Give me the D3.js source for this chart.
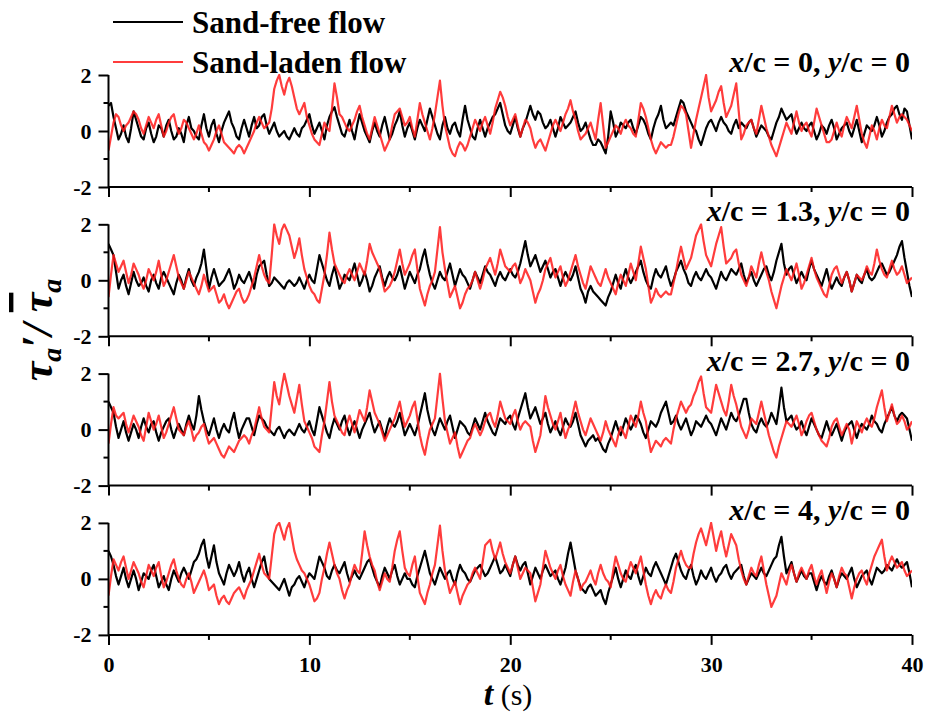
<!DOCTYPE html>
<html>
<head>
<meta charset="utf-8">
<script src="https://cdn.jsdelivr.net/npm/d3@7"></script>
<style>
    body { margin: 0; background: #fff; }
</style>
</head>
<body>
<div class="chart"></div>
<script>
/* Wall shear stress fluctuation, four stations */

var tEnd = 40;   // s, samples spread evenly over 0..tEnd
var panelLabels = [
    ["0", "0"],
    ["1.3", "0"],
    ["2.7", "0"],
    ["4", "0"]
];
var seriesNames = ["Sand-free flow", "Sand-laden flow"];
var yTicks = [-2, 0, 2];
var yMinorTicks = [-1, 1];
var xTicks = [0, 10, 20, 30, 40];
var xMinorTicks = [5, 15, 25, 35];

// x/c = 0  (one row = 5 s)
var free1 = [
    0.9,1.0,0.5,0.1,-0.3,-0.1,0.2,-0.2,-0.4,0.1, 0.7,0.4,0.1,-0.2,-0.3,0.1,0.3,-0.1,-0.4,-0.2, 0.2,0.1,-0.2,0.2,0.4,0.0,-0.3,-0.2,0.1,-0.1, -0.4,0.2,0.5,0.1,0.0,-0.2,-0.3,0.2,0.6,0.1,
    -0.2,0.2,0.4,-0.1,-0.4,0.0,0.3,0.5,0.7,0.3, 0.1,-0.2,-0.3,0.1,0.4,0.1,-0.2,0.2,0.5,0.1, 0.2,0.5,0.6,0.2,-0.1,0.1,0.3,0.0,-0.2,-0.1, 0.0,-0.2,-0.3,-0.1,0.1,-0.1,-0.2,0.1,0.2,0.4,
    0.6,0.2,-0.1,0.1,0.3,0.0,-0.3,0.2,0.5,0.7, 0.85,0.5,0.2,-0.1,-0.2,0.1,0.4,0.0,-0.3,0.2, 0.6,0.3,0.0,-0.2,-0.4,0.0,0.3,0.0,-0.2,0.2, 0.5,0.1,-0.3,-0.1,0.2,0.4,0.7,0.2,-0.2,0.1,
    0.3,0.0,-0.3,0.1,0.4,0.2,0.0,0.4,0.8,0.5, 0.2,-0.1,-0.3,0.2,0.5,0.1,-0.1,0.2,0.3,0.0, -0.2,0.4,0.9,0.4,0.1,-0.2,-0.3,0.1,0.4,0.1, -0.2,0.1,0.3,0.5,0.6,0.8,1.0,0.6,0.2,0.0,
    -0.1,0.2,0.5,0.1,-0.2,0.1,0.3,0.6,0.9,0.6, 0.4,0.7,0.6,0.3,0.1,0.2,0.4,0.1,-0.2,0.1, 0.5,0.3,0.1,0.2,0.3,0.5,0.7,0.3,0.0,0.1, 0.3,0.0,-0.3,-0.5,-0.5,-0.3,-0.4,-0.6,-0.8,-0.2,
    0.7,0.3,-0.2,0.0,0.3,0.2,0.1,0.3,0.4,0.1, -0.1,0.2,0.5,0.4,0.2,-0.1,-0.3,0.1,0.4,0.6, 0.9,0.4,0.1,0.2,0.3,0.2,0.5,0.8,1.1,1.0, 0.7,0.5,0.3,0.1,0.0,-0.3,-0.5,-0.2,0.1,0.3,
    0.4,0.2,0.0,0.3,0.5,0.3,0.2,0.0,-0.1,0.2, 0.4,0.1,0.3,0.2,0.1,0.3,0.4,0.1,-0.2,0.0, 0.2,0.1,0.0,-0.2,-0.3,0.0,0.3,0.5,0.8,0.6, 0.4,0.5,0.6,0.2,-0.1,0.1,0.3,0.1,0.0,0.2,
    0.3,0.0,-0.3,-0.1,0.2,0.1,-0.1,0.2,0.4,0.1, -0.3,-0.1,0.1,0.2,0.3,0.0,-0.2,0.1,0.4,0.0, -0.4,-0.1,0.2,0.1,0.0,0.2,0.5,0.2,-0.2,0.0, 0.3,0.5,0.6,0.8,0.9,0.6,0.4,0.8,0.7,0.2,
    -0.3
];
var laden1 = [
    -0.7,-0.2,0.3,0.6,0.5,0.2,0.0,0.2,0.3,0.5, 0.7,0.6,0.4,0.1,-0.1,0.2,0.5,0.3,0.1,0.4, 0.6,0.2,-0.2,0.0,0.3,0.5,0.6,0.2,-0.1,0.1, 0.4,0.3,0.1,-0.1,-0.3,-0.1,0.2,-0.1,-0.4,-0.5,
    -0.7,-0.5,-0.3,0.0,0.2,-0.1,-0.4,-0.5,-0.6,-0.7, -0.8,-0.6,-0.5,-0.6,-0.8,-0.6,-0.4,-0.2,0.0,0.3, 0.5,0.3,0.1,0.2,0.3,0.8,1.5,1.8,2.0,1.6, 1.3,1.7,1.9,1.6,1.2,0.8,0.6,0.8,1.0,0.5,
    0.2,-0.1,-0.3,-0.4,-0.5,-0.1,0.3,0.1,0.0,0.8, 1.7,1.2,0.6,0.5,0.3,0.1,0.0,0.2,0.4,0.7, 0.9,0.5,0.2,-0.1,-0.3,0.1,0.5,0.2,-0.1,-0.4, -0.7,-0.5,-0.3,0.2,0.6,0.7,0.8,0.5,0.2,0.3,
    0.5,0.1,-0.2,0.4,1.0,0.6,0.3,0.0,-0.3,0.1, 0.6,1.2,1.8,0.9,0.2,-0.2,-0.6,-0.8,-0.9,-0.6, -0.4,-0.5,-0.7,-0.5,-0.2,0.1,0.4,0.2,0.0,0.3, 0.5,0.2,-0.1,0.3,0.8,1.1,1.4,1.2,0.9,0.5,
    0.2,0.4,0.6,0.2,-0.2,0.1,0.4,0.3,0.1,-0.3, -0.6,-0.4,-0.3,-0.5,-0.7,-0.4,-0.1,0.2,0.4,0.2, 0.0,0.3,0.6,0.8,1.1,0.7,0.4,0.0,-0.3,-0.2, -0.1,0.1,0.3,0.0,-0.3,0.4,1.0,0.2,-0.6,-0.4,
    -0.2,0.0,0.2,0.1,-0.1,0.2,0.4,0.2,0.1,-0.1, -0.2,0.4,1.0,0.8,0.5,0.1,-0.3,-0.6,-0.8,-0.6, -0.4,-0.5,-0.6,-0.5,-0.5,-0.2,0.2,0.6,0.9,0.8, 0.6,0.0,-0.6,-0.1,0.4,0.8,1.2,1.6,2.0,1.2,
    0.7,0.9,1.1,1.4,1.6,1.0,0.5,0.7,0.9,1.3, 1.7,0.7,-0.3,-0.1,0.2,0.3,0.4,0.1,-0.1,0.4, 0.9,0.5,0.1,-0.2,-0.5,-0.7,-0.9,-0.6,-0.3,0.0, 0.3,0.1,-0.1,0.3,0.7,0.3,0.0,0.2,0.3,0.0,
    -0.2,0.3,0.8,0.5,0.2,-0.1,-0.4,-0.4,-0.3,0.0, 0.3,0.0,-0.2,0.2,0.5,0.3,0.1,0.5,0.9,0.4, -0.1,-0.4,-0.6,-0.2,0.2,0.0,-0.3,0.1,0.4,0.2, 0.1,0.5,0.9,0.6,0.3,0.5,0.6,0.5,0.4,0.2,
    0.0
];

// x/c = 1.3
var free2 = [
    1.3,1.1,0.9,0.3,-0.3,0.0,0.2,-0.2,-0.5,-0.1, 0.3,0.0,-0.2,-0.1,0.1,-0.2,-0.4,0.0,0.2,-0.1, -0.3,0.1,0.3,0.1,-0.1,-0.3,-0.5,-0.1,0.2,0.0, -0.3,0.1,0.4,0.0,-0.2,0.1,0.3,0.6,1.1,0.4,
    -0.3,0.1,0.4,0.1,-0.2,-0.1,0.0,0.2,0.4,0.1, -0.3,-0.1,0.2,0.0,-0.1,0.1,0.3,0.0,-0.3,0.2, 0.5,0.6,0.7,0.2,-0.2,-0.1,0.1,0.0,-0.1,-0.2, -0.3,-0.1,0.0,-0.1,-0.2,-0.1,0.1,-0.1,-0.3,0.0,
    0.2,0.0,-0.1,0.4,0.9,0.6,0.3,0.0,-0.2,0.2, 0.5,0.1,-0.3,-0.1,0.2,0.1,0.0,0.3,0.6,0.2, -0.2,0.0,0.3,0.0,-0.4,-0.2,0.1,0.3,0.5,0.1, -0.2,0.1,0.3,0.1,0.0,0.2,0.5,0.1,-0.3,0.0,
    0.3,0.1,-0.1,0.2,0.4,0.8,1.1,0.6,0.2,-0.1, -0.3,0.0,0.3,0.1,0.0,0.3,0.6,0.2,-0.2,0.1, 0.4,0.2,0.1,-0.1,-0.3,0.0,0.3,0.1,-0.1,0.2, 0.5,0.3,0.2,0.0,-0.2,0.1,0.3,0.1,0.0,0.2,
    0.4,0.2,0.1,0.3,0.6,1.0,1.4,0.9,0.5,0.7, 0.9,0.6,0.3,0.5,0.7,0.4,0.1,0.3,0.4,0.1, -0.2,0.1,0.3,0.1,0.0,0.2,0.5,0.1,-0.3,-0.5, -0.8,-0.4,-0.2,-0.4,-0.5,-0.6,-0.7,-0.8,-0.9,-0.6,
    -0.4,-0.1,0.2,-0.1,-0.3,0.1,0.4,0.1,-0.1,0.1, 0.3,0.5,0.7,0.3,0.0,-0.2,-0.3,0.1,0.4,0.2, 0.1,0.3,0.5,0.1,-0.2,0.0,0.3,0.5,0.7,0.4, 0.2,-0.1,-0.2,0.1,0.3,0.1,0.0,0.2,0.4,0.2,
    0.1,-0.1,-0.3,0.0,0.3,0.1,0.0,0.2,0.4,0.3, 0.2,0.4,0.6,0.2,-0.1,0.1,0.3,0.0,-0.2,0.0, 0.2,0.4,0.5,0.2,0.0,0.3,0.7,1.0,1.3,0.6, 0.2,0.4,0.5,0.2,-0.1,0.1,0.3,0.1,0.0,0.4,
    0.7,0.4,0.2,0.0,-0.2,0.1,0.4,0.0,-0.3,-0.1, 0.1,-0.1,-0.2,0.1,0.3,0.0,-0.4,-0.1,0.2,0.0, -0.1,0.2,0.4,0.1,0.0,0.1,0.3,0.5,0.6,0.4, 0.2,0.3,0.5,0.7,0.9,1.2,1.4,0.8,0.3,-0.2,
    -0.6
];
var laden2 = [
    -0.6,0.2,0.9,0.6,0.3,0.5,0.7,0.3,-0.1,0.2, 0.6,0.4,0.2,-0.1,-0.3,0.0,0.4,0.2,0.0,0.3, 0.7,0.2,-0.2,0.0,0.3,0.6,0.9,0.5,0.1,-0.1, -0.3,0.0,0.3,0.1,-0.1,-0.3,-0.5,-0.2,0.2,-0.1,
    -0.4,-0.3,-0.2,-0.5,-0.8,-0.7,-0.5,-0.8,-1.0,-0.8, -0.6,-0.4,-0.3,-0.6,-0.8,-0.7,-0.5,-0.2,0.1,0.5, 0.9,0.5,0.2,0.0,-0.1,0.9,2.0,1.6,1.3,1.8, 2.0,1.8,1.6,1.2,0.8,1.1,1.5,0.9,0.4,0.1,
    -0.2,-0.4,-0.5,-0.7,-0.8,-0.3,0.2,0.9,1.7,1.1, 0.6,0.4,0.2,0.0,-0.1,0.2,0.4,0.2,0.0,0.3, 0.6,0.4,0.2,0.7,1.3,1.0,0.8,0.6,0.4,0.0, -0.4,-0.3,-0.2,0.0,0.3,0.7,1.1,0.6,0.2,0.4,
    0.6,0.9,1.1,0.4,-0.3,-0.6,-0.9,-0.5,-0.2,0.0, 0.3,1.1,1.9,1.0,0.4,-0.1,-0.6,-0.4,-0.2,-0.6, -1.0,-0.8,-0.5,-0.3,-0.2,0.0,0.3,0.0,-0.3,0.0, 0.4,0.6,0.8,0.5,0.2,0.6,1.1,0.8,0.5,0.4,
    0.3,0.5,0.6,0.3,-0.1,0.1,0.4,0.2,0.0,-0.4, -0.8,-0.5,-0.3,0.0,0.4,0.6,0.8,0.4,0.1,0.3, 0.5,0.1,-0.2,0.0,0.3,0.6,0.9,0.5,0.2,-0.1, -0.3,0.1,0.5,0.3,0.1,-0.1,-0.2,0.1,0.4,0.1,
    -0.1,-0.3,-0.5,-0.1,0.2,0.0,-0.2,0.2,0.6,0.3, 0.0,0.6,1.2,0.8,0.4,-0.2,-0.8,-0.6,-0.3,-0.5, -0.6,-0.5,-0.4,-0.5,-0.5,-0.1,0.3,0.8,1.2,0.8, 0.4,0.6,0.8,1.2,1.6,1.8,2.0,1.4,0.9,0.7,
    0.5,0.9,1.3,1.6,1.9,1.2,0.6,0.7,0.8,1.0, 1.1,0.6,0.2,0.0,-0.2,0.1,0.5,0.3,0.1,0.6, 1.0,0.6,0.3,0.0,-0.4,-0.7,-1.0,-0.6,-0.2,0.1, 0.4,0.2,0.0,0.3,0.6,0.2,-0.3,-0.1,0.2,0.5,
    0.8,0.4,0.1,-0.1,-0.3,-0.5,-0.6,-0.2,0.2,0.4, 0.5,0.2,-0.1,0.1,0.3,0.0,-0.4,-0.1,0.2,0.1, 0.0,0.2,0.5,0.3,0.2,0.6,1.1,0.7,0.4,0.2, 0.1,0.4,0.7,0.4,0.2,0.3,0.5,0.2,-0.1,0.0,
    0.1
];

// x/c = 2.7
var free3 = [
    1.0,0.8,0.6,0.1,-0.3,0.0,0.3,-0.1,-0.4,-0.1, 0.2,0.0,-0.3,0.1,0.4,0.1,-0.1,0.2,0.3,-0.1, -0.4,-0.1,0.1,0.3,0.4,0.0,-0.3,0.0,0.2,0.0, -0.2,0.2,0.5,0.2,0.0,0.5,1.2,0.7,0.3,0.0,
    -0.2,0.1,0.4,0.0,-0.3,0.0,0.2,0.0,-0.1,0.3, 0.6,0.1,-0.3,0.0,0.2,0.4,0.4,0.1,-0.2,0.2, 0.5,0.4,0.3,0.1,0.0,-0.1,-0.2,0.0,0.1,-0.1, -0.3,-0.1,0.0,-0.1,-0.2,0.0,0.2,0.0,-0.1,0.1,
    0.3,0.0,-0.2,0.3,0.8,0.5,0.2,-0.1,-0.3,0.1, 0.4,0.2,0.0,0.3,0.5,0.1,-0.2,0.1,0.3,0.0, -0.3,0.0,0.2,0.4,0.6,0.2,-0.1,0.1,0.3,0.0, -0.3,0.1,0.4,0.2,0.1,0.3,0.6,0.2,-0.2,0.0,
    0.2,0.0,-0.2,0.1,0.5,0.9,1.3,0.7,0.3,0.0, -0.2,0.1,0.4,0.2,0.0,0.3,0.5,0.1,-0.3,0.0, 0.3,0.2,0.1,-0.1,-0.2,0.1,0.4,0.2,0.0,0.3, 0.6,0.3,0.1,-0.1,-0.2,0.1,0.4,0.3,0.2,0.4,
    0.5,0.2,0.0,0.4,0.7,1.0,1.3,0.8,0.4,0.6, 0.8,0.5,0.2,0.4,0.6,0.2,-0.1,0.1,0.3,0.0, -0.2,0.1,0.4,0.2,0.1,0.3,0.6,0.2,-0.2,-0.4, -0.6,-0.4,-0.3,-0.2,-0.4,-0.3,-0.5,-0.7,-0.8,-0.5,
    -0.3,0.0,0.3,0.0,-0.2,0.1,0.4,0.2,0.0,0.2, 0.5,0.4,0.2,-0.1,-0.3,0.0,0.3,0.2,0.1,0.3, 0.6,0.8,1.0,0.6,0.2,0.3,0.5,0.2,0.0,0.2, 0.4,0.1,-0.2,0.0,0.3,0.2,0.1,0.3,0.5,0.3,
    0.2,0.0,-0.2,0.1,0.4,0.2,0.0,0.3,0.6,0.4, 0.3,0.5,0.8,1.1,1.1,0.6,0.2,0.0,-0.1,0.2, 0.4,0.2,0.1,0.3,0.6,0.4,0.2,0.8,1.5,0.8, 0.3,0.4,0.5,0.2,0.0,0.1,0.3,0.0,-0.2,0.1,
    0.4,0.2,0.0,-0.2,-0.3,0.0,0.3,0.0,-0.2,0.0, 0.2,-0.1,-0.4,-0.1,0.1,0.2,0.3,0.0,-0.3,0.0, 0.2,0.1,0.0,0.2,0.5,0.3,0.2,0.0,-0.1,0.2, 0.4,0.6,0.8,0.5,0.3,0.5,0.6,0.5,0.4,0.0,
    -0.4
];
var laden3 = [
    -0.5,0.2,0.8,0.5,0.4,0.5,0.6,0.2,-0.1,0.2, 0.5,0.3,0.1,-0.2,-0.4,0.1,0.6,0.3,0.0,0.2, 0.5,0.1,-0.3,-0.1,0.2,0.5,0.8,0.4,0.0,-0.1, -0.2,0.1,0.3,0.0,-0.4,-0.2,-0.1,0.1,0.2,-0.2,
    -0.5,-0.4,-0.3,-0.5,-0.7,-0.9,-1.0,-0.8,-0.6,-0.7, -0.8,-0.6,-0.4,-0.3,-0.2,-0.3,-0.5,-0.2,0.0,0.4, 0.8,0.4,0.1,0.0,-0.1,0.8,1.7,1.2,0.9,1.5, 2.0,1.6,1.2,0.9,0.6,1.1,1.6,0.9,0.3,0.1,
    -0.1,-0.3,-0.6,-0.7,-0.8,-0.2,0.3,1.0,1.7,1.0, 0.5,0.3,0.1,-0.1,-0.2,0.2,0.5,0.2,-0.1,0.3, 0.7,0.5,0.3,0.8,1.4,1.0,0.6,0.4,0.2,-0.1, -0.4,-0.2,0.0,0.2,0.4,0.7,1.0,0.5,0.1,0.3,
    0.5,0.8,1.0,0.4,-0.2,-0.6,-0.9,-0.4,0.0,0.2, 0.4,1.2,2.0,1.1,0.3,-0.1,-0.5,-0.3,-0.1,-0.6, -1.0,-0.8,-0.6,-0.4,-0.3,0.0,0.2,0.0,-0.2,0.0, 0.3,0.5,0.6,0.3,0.1,0.5,1.0,0.7,0.4,0.3,
    0.2,0.5,0.7,0.3,0.0,0.2,0.3,0.2,0.1,-0.4, -0.8,-0.5,-0.2,0.5,1.2,0.8,0.5,0.2,0.0,0.3, 0.6,0.1,-0.3,0.0,0.2,0.6,1.0,0.6,0.3,0.0, -0.2,0.1,0.4,0.2,0.0,-0.2,-0.4,-0.1,0.3,0.0,
    -0.2,-0.4,-0.6,-0.2,0.1,-0.1,-0.3,0.1,0.5,0.3, 0.1,0.5,1.0,0.6,0.3,-0.3,-0.8,-0.6,-0.4,-0.5, -0.6,-0.4,-0.3,-0.4,-0.5,0.0,0.4,0.7,1.0,0.8, 0.6,0.8,0.9,1.2,1.4,1.7,1.9,1.3,0.8,0.7,
    0.6,1.1,1.6,1.3,1.0,0.7,0.5,1.0,1.6,1.2, 0.9,0.5,0.1,-0.1,-0.3,0.0,0.4,0.3,0.2,0.6, 1.0,0.6,0.2,-0.2,-0.5,-0.8,-1.0,-0.6,-0.3,0.0, 0.3,0.2,0.1,0.3,0.5,0.2,-0.2,0.0,0.3,0.5,
    0.6,0.3,0.0,-0.2,-0.4,-0.5,-0.6,-0.3,0.1,0.3, 0.4,0.1,-0.2,0.0,0.2,0.0,-0.5,-0.1,0.3,0.1, -0.1,0.2,0.4,0.2,0.1,0.4,0.8,1.1,1.4,0.8, 0.3,0.6,0.9,0.5,0.2,0.3,0.5,0.3,0.0,0.1,
    0.3
];

// x/c = 4
var free4 = [
    1.0,0.8,0.5,0.1,-0.2,0.1,0.4,0.0,-0.3,0.0, 0.3,0.0,-0.4,-0.1,0.2,0.1,0.0,0.3,0.5,0.1, -0.3,-0.1,0.1,-0.2,-0.4,0.0,0.3,0.1,-0.1,0.2, 0.4,0.2,0.0,0.3,0.6,0.7,0.9,1.2,1.4,0.8,
    0.4,0.8,1.2,0.6,0.2,0.0,-0.2,0.2,0.5,0.3, 0.1,0.3,0.6,0.2,-0.1,0.2,0.4,0.0,-0.3,0.0, 0.3,0.6,0.8,0.3,0.0,-0.1,-0.2,-0.3,-0.4,-0.2, 0.0,-0.3,-0.6,-0.3,-0.2,0.0,0.1,-0.1,-0.3,0.0,
    0.2,0.1,0.0,0.4,0.8,0.6,0.4,0.1,0.0,0.3, 0.5,0.3,0.2,0.4,0.6,0.2,-0.1,0.1,0.3,0.1, 0.0,0.2,0.4,0.6,0.7,0.4,0.1,-0.1,-0.3,0.1, 0.4,0.2,0.0,0.3,0.5,0.1,-0.2,0.0,0.2,0.0,
    0.0,-0.2,-0.3,0.1,0.4,0.7,1.0,0.6,0.2,0.0, -0.2,0.1,0.4,0.2,0.0,0.2,0.3,0.0,-0.2,0.2, 0.5,0.3,0.2,0.0,-0.1,0.1,0.3,0.4,0.5,0.3, 0.1,0.2,0.4,0.6,0.8,0.5,0.2,0.3,0.5,0.3,
    0.1,0.5,0.8,0.5,0.3,0.5,0.6,0.2,-0.2,0.1, 0.4,0.2,0.0,0.3,0.5,0.3,0.1,0.2,0.3,0.0, -0.2,0.1,0.4,0.9,1.3,0.8,0.3,0.0,-0.3,-0.4, -0.5,-0.3,-0.2,-0.4,-0.6,-0.5,-0.4,-0.7,-0.9,-0.5,
    -0.2,0.1,0.4,0.0,-0.3,0.0,0.3,0.1,0.0,0.3, 0.5,0.1,-0.2,0.1,0.4,0.2,0.1,0.4,0.6,0.4, 0.2,0.0,-0.2,0.1,0.4,0.7,0.9,0.6,0.3,0.1, 0.0,0.3,0.5,0.1,-0.2,0.0,0.3,0.1,0.0,0.2,
    0.4,0.1,-0.1,0.1,0.2,0.4,0.5,0.2,0.0,0.2, 0.3,0.4,0.5,0.1,-0.2,0.0,0.2,0.1,0.0,0.2, 0.4,0.2,0.1,0.3,0.5,0.7,0.8,1.2,1.5,0.8, 0.2,0.4,0.6,0.2,-0.1,0.1,0.3,0.1,0.0,0.2,
    0.2,-0.1,-0.4,-0.1,0.1,-0.1,-0.2,0.1,0.3,0.0, -0.3,0.0,0.2,0.1,0.0,0.2,0.4,0.0,-0.3,-0.1, 0.1,0.2,0.3,0.0,-0.2,0.1,0.4,0.3,0.2,0.3, 0.5,0.4,0.3,0.5,0.7,0.5,0.4,0.5,0.6,0.2,
    -0.3
];
var laden4 = [
    -0.6,0.1,0.7,0.5,0.3,0.6,0.8,0.4,0.0,0.3, 0.6,0.4,0.2,-0.1,-0.3,0.1,0.5,0.3,0.1,0.4, 0.6,0.1,-0.3,-0.1,0.2,0.5,0.7,0.3,0.0,-0.2, -0.3,0.0,0.2,-0.1,-0.5,-0.3,-0.1,0.1,0.3,0.0,
    -0.4,-0.3,-0.2,-0.6,-0.9,-0.7,-0.6,-0.8,-0.9,-0.7, -0.5,-0.4,-0.3,-0.5,-0.7,-0.4,-0.2,0.0,0.3,0.6, 0.9,0.5,0.2,0.1,0.0,0.8,1.6,1.9,2.0,1.7, 1.4,1.8,2.0,1.5,1.0,0.7,0.5,0.3,0.2,0.0,
    -0.2,-0.5,-0.8,-0.7,-0.5,0.0,0.4,0.9,1.3,0.9, 0.5,0.2,0.0,-0.4,-0.7,-0.4,-0.2,0.2,0.5,0.3, 0.2,0.9,1.7,1.2,0.8,0.5,0.3,-0.1,-0.4,-0.1, 0.2,0.0,-0.1,0.4,1.0,1.4,1.7,1.0,0.4,0.2,
    0.1,0.5,0.8,0.1,-0.5,-0.7,-0.9,-0.5,-0.2,0.2, 0.5,1.2,1.9,1.0,0.3,-0.1,-0.5,-0.3,-0.1,-0.5, -0.9,-0.6,-0.4,-0.2,-0.1,0.2,0.4,0.2,0.0,0.6, 1.2,1.3,1.4,1.0,0.7,1.0,1.3,0.9,0.6,0.4,
    0.2,0.5,0.8,0.4,0.0,0.2,0.4,0.3,0.2,-0.3, -0.8,-0.5,-0.2,0.4,1.0,0.7,0.4,0.2,0.0,0.3, 0.5,0.1,-0.2,-0.4,-0.6,-0.1,0.3,0.0,-0.4,-0.2, -0.1,0.1,0.3,0.0,-0.2,0.2,0.5,0.2,0.0,-0.1,
    -0.3,0.3,0.8,0.5,0.2,0.0,-0.1,0.3,0.6,0.4, 0.2,0.5,0.8,0.3,-0.2,-0.6,-0.9,-0.6,-0.4,-0.6, -0.7,-0.4,-0.2,-0.4,-0.5,-0.1,0.4,0.7,1.0,0.7, 0.5,0.4,0.4,0.9,1.3,1.6,1.8,1.5,1.2,1.6,
    2.0,1.5,1.0,1.4,1.7,1.2,0.8,1.2,1.6,1.4, 1.2,0.7,0.3,0.0,-0.2,0.1,0.4,0.2,0.1,0.5, 0.8,0.3,-0.2,-0.6,-1.0,-0.8,-0.6,-0.2,0.2,0.0, -0.2,0.2,0.5,0.2,-0.1,0.2,0.4,0.2,0.0,0.3,
    0.5,0.1,-0.2,0.1,0.3,-0.1,-0.5,-0.1,0.2,0.0, -0.3,0.1,0.4,0.2,0.1,-0.3,-0.7,-0.3,0.0,0.2, 0.3,0.0,-0.2,0.2,0.5,0.8,1.0,1.2,1.4,0.8, 0.3,0.6,0.8,0.6,0.4,0.5,0.6,0.3,0.1,0.2,
    0.3
];

var freeSeries = [free1, free2, free3, free4];
var ladenSeries = [laden1, laden2, laden3, laden4];

var colorFree = "#000000";
var colorLaden = "#ff1a1a";
var serif = "'Liberation Serif', 'Times New Roman', Times, serif";

function drawChart() {
    var w = 934;
    var h = 716;

    var left = 108.5, right = 912;
    var panelTop = 75, panelStep = 149.3, panelH = 112;

    var svg = d3.select(".chart")
        .append("svg")
        .attr("width", w)
        .attr("height", h)
        .attr("font-family", serif);

    var x = d3.scaleLinear().domain([0, tEnd]).range([left, right]);

    function seriesPath(values, y) {
        var step = tEnd / (values.length - 1);
        return d3.line()
            .x(function (d, i) { return x(i * step); })
            .y(function (d) { return y(d); })(values);
    }

    for (var p = 0; p < 4; p++) {
        var top = panelTop + p * panelStep;
        var y = d3.scaleLinear().domain([-2, 2]).range([top + panelH, top]);
        var g = svg.append("g").attr("class", "panel");

        g.append("clipPath").attr("id", "clip" + p)
            .append("rect")
            .attr("x", left).attr("y", top - 1)
            .attr("width", right - left).attr("height", panelH + 2);

        var lines = g.append("g").attr("clip-path", "url(#clip" + p + ")");
        lines.append("path")
            .attr("d", seriesPath(freeSeries[p], y))
            .attr("fill", "none")
            .attr("stroke", colorFree)
            .attr("stroke-width", 2.2)
            .attr("stroke-linejoin", "round");
        lines.append("path")
            .attr("d", seriesPath(ladenSeries[p], y))
            .attr("fill", "none")
            .attr("stroke", colorLaden)
            .attr("stroke-opacity", 0.85)
            .attr("stroke-width", 2.2)
            .attr("stroke-linejoin", "round");

        // y axis
        var yAxis = d3.axisLeft(y).tickValues(yTicks).tickSize(10).tickPadding(7)
            .tickFormat(function (d) { return d; });
        var ya = g.append("g").attr("transform", "translate(" + left + ",0)").call(yAxis);
        yMinorTicks.forEach(function (v) {
            ya.append("line").attr("x1", 0).attr("x2", -5)
                .attr("y1", y(v)).attr("y2", y(v))
                .attr("stroke", "#000").attr("stroke-width", 2);
        });

        // x axis, numbers only under the last panel
        var xAxis = d3.axisBottom(x).tickValues(xTicks).tickSize(10).tickPadding(11)
            .tickFormat(p === 3 ? d3.format("d") : "");
        var xa = g.append("g").attr("transform", "translate(0," + (top + panelH) + ")").call(xAxis);
        xMinorTicks.forEach(function (v) {
            xa.append("line").attr("x1", x(v)).attr("x2", x(v))
                .attr("y1", 0).attr("y2", 5)
                .attr("stroke", "#000").attr("stroke-width", 2);
        });

        [ya, xa].forEach(function (a) {
            a.attr("font-family", serif);
            a.select(".domain").attr("stroke-width", 2);
            a.selectAll(".tick line").attr("stroke-width", 2);
            a.selectAll("text")
                .attr("font-weight", "bold")
                .attr("font-size", 22)
                .attr("fill", "#000");
        });
        ya.select(".domain").attr("d", "M0," + (top + panelH) + "V" + top);
        xa.select(".domain").attr("d", "M" + left + ",0H" + right);

        // station label
        var lab = g.append("text")
            .attr("x", right - 2)
            .attr("y", top - 3)
            .attr("text-anchor", "end")
            .attr("font-weight", "bold")
            .attr("font-size", 30);
        lab.append("tspan").attr("font-style", "italic").text("x");
        lab.append("tspan").text("/c = " + panelLabels[p][0] + ", ");
        lab.append("tspan").attr("font-style", "italic").text("y");
        lab.append("tspan").text("/c = " + panelLabels[p][1]);
    }

    // legend
    var legend = svg.append("g").attr("class", "legend");
    [colorFree, colorLaden].forEach(function (c, i) {
        var ly = 22 + i * 40;
        legend.append("line")
            .attr("x1", 113).attr("x2", 183)
            .attr("y1", ly).attr("y2", ly)
            .attr("stroke", c).attr("stroke-width", 2)
            .attr("stroke-opacity", i === 1 ? 0.85 : 1);
        legend.append("text")
            .attr("x", 192).attr("y", ly + 11)
            .attr("font-weight", "bold")
            .attr("font-size", 31)
            .text(seriesNames[i]);
    });

    // y label
    var yl = svg.append("text")
        .attr("transform", "translate(52,330) rotate(-90)")
        .attr("text-anchor", "middle")
        .attr("font-weight", "bold")
        .attr("font-style", "italic")
        .attr("font-size", 44);
    yl.append("tspan").text("τ");
    yl.append("tspan").attr("font-size", 28).attr("dy", 9).text("a");
    yl.append("tspan").attr("dy", -9).text("′/ ");
    yl.append("tspan").style("text-decoration", "overline").text("τ");
    yl.append("tspan").attr("font-size", 28).attr("dy", 9).text("a");

    // x label
    var xl = svg.append("text")
        .attr("x", 508).attr("y", 705)
        .attr("text-anchor", "middle")
        .attr("font-size", 30);
    xl.append("tspan").attr("font-weight", "bold").attr("font-style", "italic").attr("font-size", 34).text("t");
    xl.append("tspan").text(" (s)");
}

document.addEventListener("DOMContentLoaded", function () {
    drawChart();
});
</script>
</body>
</html>
